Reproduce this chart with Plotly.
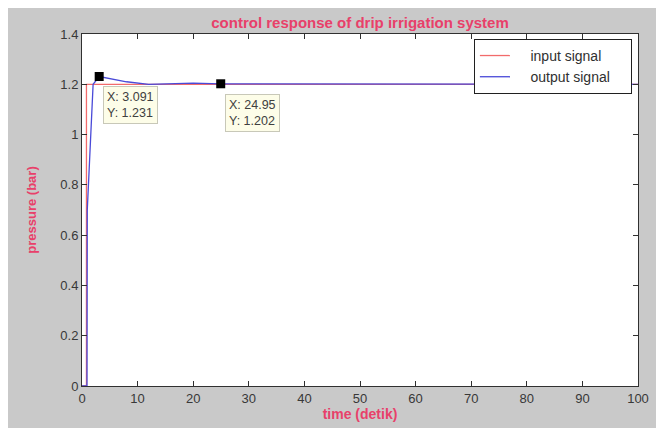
import plotly.graph_objects as go

t_in = [0, 0.8, 0.8, 100]
y_in = [0, 0, 1.2, 1.2]

t_out = [0, 0.9, 0.95, 1.5, 2.0, 3.091, 5, 8, 12, 16, 20, 24.95, 100]
y_out = [0, 0, 0.7, 1.0, 1.2, 1.231, 1.222, 1.21, 1.2, 1.203, 1.205, 1.202, 1.2]

tips_x = [3.091, 24.95]
tips_y = [1.231, 1.202]
tips_text = ["X: 3.091<br>Y: 1.231", "X: 24.95<br>Y: 1.202"]

x_ticks = list(range(0, 101, 10))
y_ticks = [0, 0.2, 0.4, 0.6, 0.8, 1, 1.2, 1.4]
y_tick_labels = ["0", "0.2", "0.4", "0.6", "0.8", "1", "1.2", "1.4"]

FONT = "Liberation Sans, Arial"
PINK = "#e8406a"
NB = "\u00a0"

fig = go.Figure()
fig.add_trace(go.Scatter(x=t_in, y=y_in, mode="lines", name=NB * 4 + "input signal" + NB * 4,
                         line=dict(color="#f26b6b", width=1.3)))
fig.add_trace(go.Scatter(x=t_out, y=y_out, mode="lines", name=NB * 4 + "output signal" + NB * 4,
                         line=dict(color="#4a4ad8", width=1.3)))
fig.add_trace(go.Scatter(x=tips_x, y=tips_y, mode="markers", showlegend=False,
                         marker=dict(symbol="square", color="black", size=9)))

for tx, ty, txt in zip(tips_x, tips_y, tips_text):
    fig.add_annotation(x=tx, y=ty, text=txt, showarrow=False, xanchor="left", yanchor="top",
                       xshift=4, yshift=-10, align="left",
                       bgcolor="#fdfde8", bordercolor="#c8c8b8", borderwidth=1, borderpad=3,
                       font=dict(family=FONT, size=12.5, color="#404040"))

ax_common = dict(showline=True, linecolor="#303030", linewidth=1, mirror="ticks",
                 ticks="inside", ticklen=5, tickcolor="#303030", showgrid=False,
                 zeroline=False, automargin=False,
                 tickfont=dict(family=FONT, size=13, color="#383838"))

fig.update_xaxes(range=[0, 100], tickvals=x_ticks, **ax_common,
                 title=dict(text="<b>time (detik)</b>", standoff=2,
                            font=dict(family=FONT, size=14, color=PINK)))
fig.update_yaxes(range=[0, 1.4], tickvals=y_ticks, ticktext=y_tick_labels, **ax_common,
                 title=dict(text="<b>pressure (bar)</b>", standoff=20,
                            font=dict(family=FONT, size=13, color=PINK)))

fig.update_layout(
    width=664, height=428,
    margin=dict(l=74, r=34, t=26, b=50, autoexpand=False),
    paper_bgcolor="#c9c9c9", plot_bgcolor="white",
    title=dict(text="<b>control response of drip irrigation system</b>", x=0.5, xanchor="center",
               xref="paper", y=0.965, yanchor="middle",
               font=dict(family=FONT, size=15, color=PINK)),
    legend=dict(x=0.989, y=0.986, xanchor="right", yanchor="top", bgcolor="white",
                bordercolor="#202020", borderwidth=1,
                font=dict(family=FONT, size=14, color="#303030"),
                tracegroupgap=0),
    showlegend=True,
)

fig.write_html("out.html")
